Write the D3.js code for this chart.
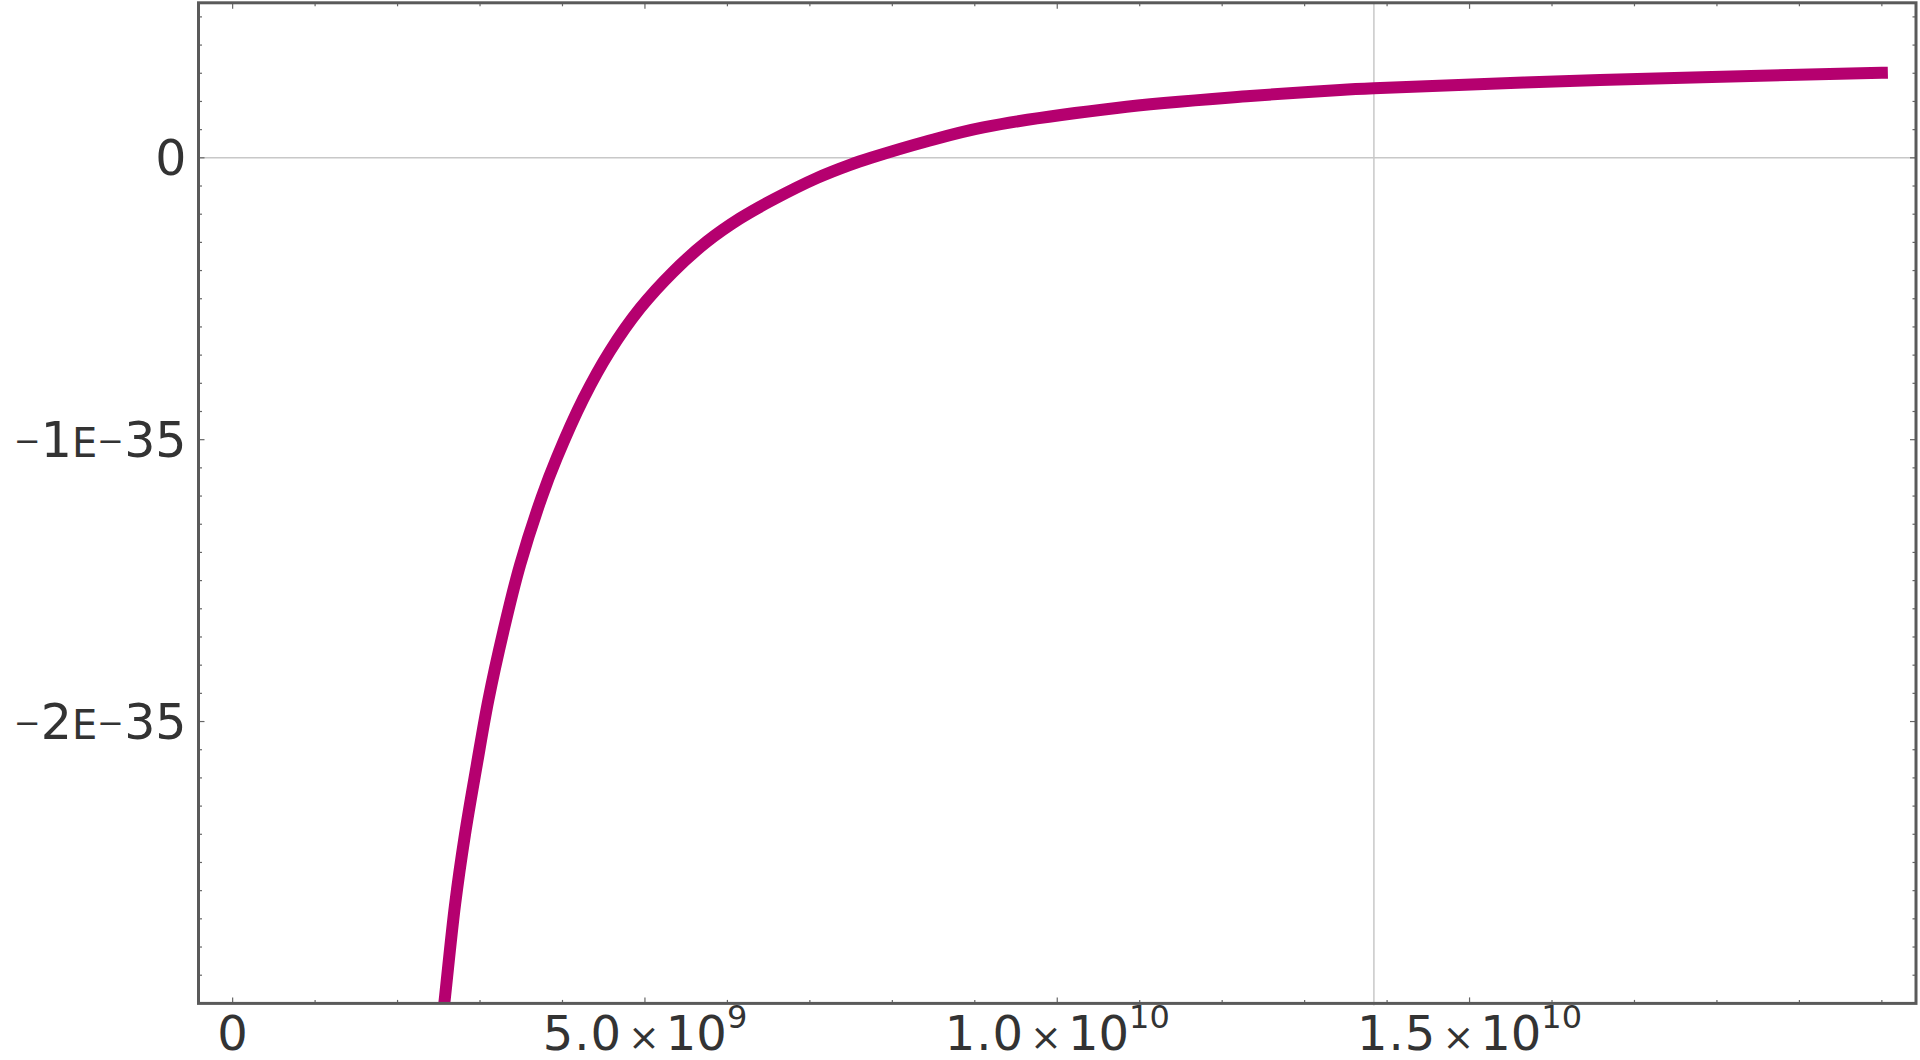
<!DOCTYPE html>
<html>
<head>
<meta charset="utf-8">
<script src="https://cdn.jsdelivr.net/npm/d3@7"></script>
<style>
  html, body { margin: 0; padding: 0; background: #fff; }
  svg { display: block; }
  text { font-family: "DejaVu Sans", sans-serif; fill: #333; }
</style>
</head>
<body>
<svg id="chart" width="1920" height="1060"></svg>
<script>
// ---- data (time in years, value in units shown on the axis) ----
const timeYears = [2.50e9, 2.576e9, 2.697e9, 2.818e9, 2.960e9, 3.101e9, 3.283e9, 3.485e9, 3.748e9,
  3.930e9, 4.253e9, 4.577e9, 4.941e9, 5.344e9, 5.749e9, 6.153e9, 6.557e9, 7.083e9, 7.487e9,
  7.742e9, 8.4e9, 9.104e9, 10.72e9, 12.34e9, 13.43e9, 13.84e9, 16.58e9, 19.74e9, 20.0e9];
const curveValues = [-3.18e-35, -2.975e-35, -2.65e-35, -2.40e-35, -2.155e-35, -1.924e-35, -1.68e-35,
  -1.445e-35, -1.204e-35, -1.065e-35, -0.855e-35, -0.685e-35, -0.534e-35, -0.404e-35, -0.298e-35,
  -0.215e-35, -0.148e-35, -0.072e-35, -0.025e-35, 0, 0.057e-35, 0.108e-35, 0.177e-35, 0.219e-35,
  0.241e-35, 0.247e-35, 0.276e-35, 0.300e-35, 0.3016e-35];

const xMajorTicks = [0, 5e9, 1e10, 1.5e10];
const xMajorLabels = [
  {mant: "0", exp: null},
  {mant: "5.0", exp: "9"},
  {mant: "1.0", exp: "10"},
  {mant: "1.5", exp: "10"}
];
const yMajorTicks = [0, -1e-35, -2e-35, -3e-35];
const yMajorLabels = ["0", "-1E-35", "-2E-35", null];
const xGridLines = [13.84e9];
const yGridLines = [0];

(function () {
const pLeft = 198.5, pRight = 1916, pTop = 2.8, pBottom = 1003.4;
const x = d3.scaleLinear().domain([-0.414e9, 20.414e9]).range([pLeft, pRight]);
const y = d3.scaleLinear().domain([-3e-35, 0.55e-35]).range([pBottom, pTop]);

const svg = d3.select("#chart");

svg.append("defs").append("clipPath").attr("id", "plotclip")
  .append("rect").attr("x", pLeft).attr("y", pTop).attr("width", pRight - pLeft).attr("height", pBottom - pTop);

// grid lines
svg.append("g").selectAll("line").data(yGridLines).join("line")
  .attr("x1", pLeft).attr("x2", pRight)
  .attr("y1", d => y(d)).attr("y2", d => y(d))
  .attr("stroke", "#c8c8c8").attr("stroke-width", 1.5);
svg.append("g").selectAll("line").data(xGridLines).join("line")
  .attr("x1", d => x(d)).attr("x2", d => x(d))
  .attr("y1", pTop).attr("y2", pBottom + 2)
  .attr("stroke", "#c8c8c8").attr("stroke-width", 1.5);

// curve
const pts = timeYears.map((t, i) => [t, curveValues[i]]);
svg.append("path")
  .datum(pts)
  .attr("clip-path", "url(#plotclip)")
  .attr("fill", "none")
  .attr("stroke", "#b5006f")
  .attr("stroke-width", 12)
  .attr("stroke-linecap", "square")
  .attr("d", d3.line().x(d => x(d[0])).y(d => y(d[1])).curve(d3.curveCatmullRom.alpha(0.5)));

// ticks
const xMinor = d3.range(0, 21).map(k => k * 1e9);
const yMinor = d3.range(-30, 6).map(k => k * 1e-36);
const isMajorX = v => xMajorTicks.some(m => Math.abs(m - v) < 1);
const isMajorY = v => yMajorTicks.some(m => Math.abs(m - v) < 1e-40);
const tg = svg.append("g").attr("stroke", "#666").attr("stroke-width", 1.2);
xMinor.forEach(v => {
  const len = isMajorX(v) ? 6 : 3.5;
  tg.append("line").attr("x1", x(v)).attr("x2", x(v)).attr("y1", pBottom).attr("y2", pBottom - len);
  tg.append("line").attr("x1", x(v)).attr("x2", x(v)).attr("y1", pTop).attr("y2", pTop + len);
});
yMinor.forEach(v => {
  const len = isMajorY(v) ? 6 : 3.5;
  tg.append("line").attr("y1", y(v)).attr("y2", y(v)).attr("x1", pLeft).attr("x2", pLeft + len);
  tg.append("line").attr("y1", y(v)).attr("y2", y(v)).attr("x1", pRight).attr("x2", pRight - len);
});

// frame
svg.append("rect")
  .attr("x", pLeft).attr("y", pTop).attr("width", pRight - pLeft).attr("height", pBottom - pTop)
  .attr("fill", "none").attr("stroke", "#5a5a5a").attr("stroke-width", 3);

// x labels
xMajorTicks.forEach((v, i) => {
  const lab = xMajorLabels[i];
  const t = svg.append("text")
    .attr("x", x(v)).attr("y", 1050)
    .attr("text-anchor", "middle")
    .attr("font-size", 48);
  if (!lab.exp) {
    t.text(lab.mant);
  } else {
    t.append("tspan").attr("letter-spacing", 1).text(lab.mant);
    t.append("tspan").attr("font-size", 38).attr("dx", 6).text("\u00d7");
    t.append("tspan").attr("dx", 6).text("10");
    t.append("tspan").attr("font-size", 32).attr("dy", -22).text(lab.exp);
  }
});

// y labels
yMajorTicks.forEach((v, i) => {
  const lab = yMajorLabels[i];
  if (!lab) return;
  const t = svg.append("text")
    .attr("x", 186.5).attr("y", y(v) + 17)
    .attr("text-anchor", "end")
    .attr("font-size", 49);
  if (lab === "0") { t.text("0"); return; }
  const m = lab.match(/^-(\d)E-(\d+)$/);
  t.append("tspan").attr("font-size", 32).attr("dy", -5).text("\u2212");
  t.append("tspan").attr("dy", 5).text(m[1]);
  t.append("tspan").attr("font-size", 40).text("E");
  t.append("tspan").attr("font-size", 32).attr("dy", -5).text("\u2212");
  t.append("tspan").attr("dy", 5).text(m[2]);
});
})();
</script>
</body>
</html>
